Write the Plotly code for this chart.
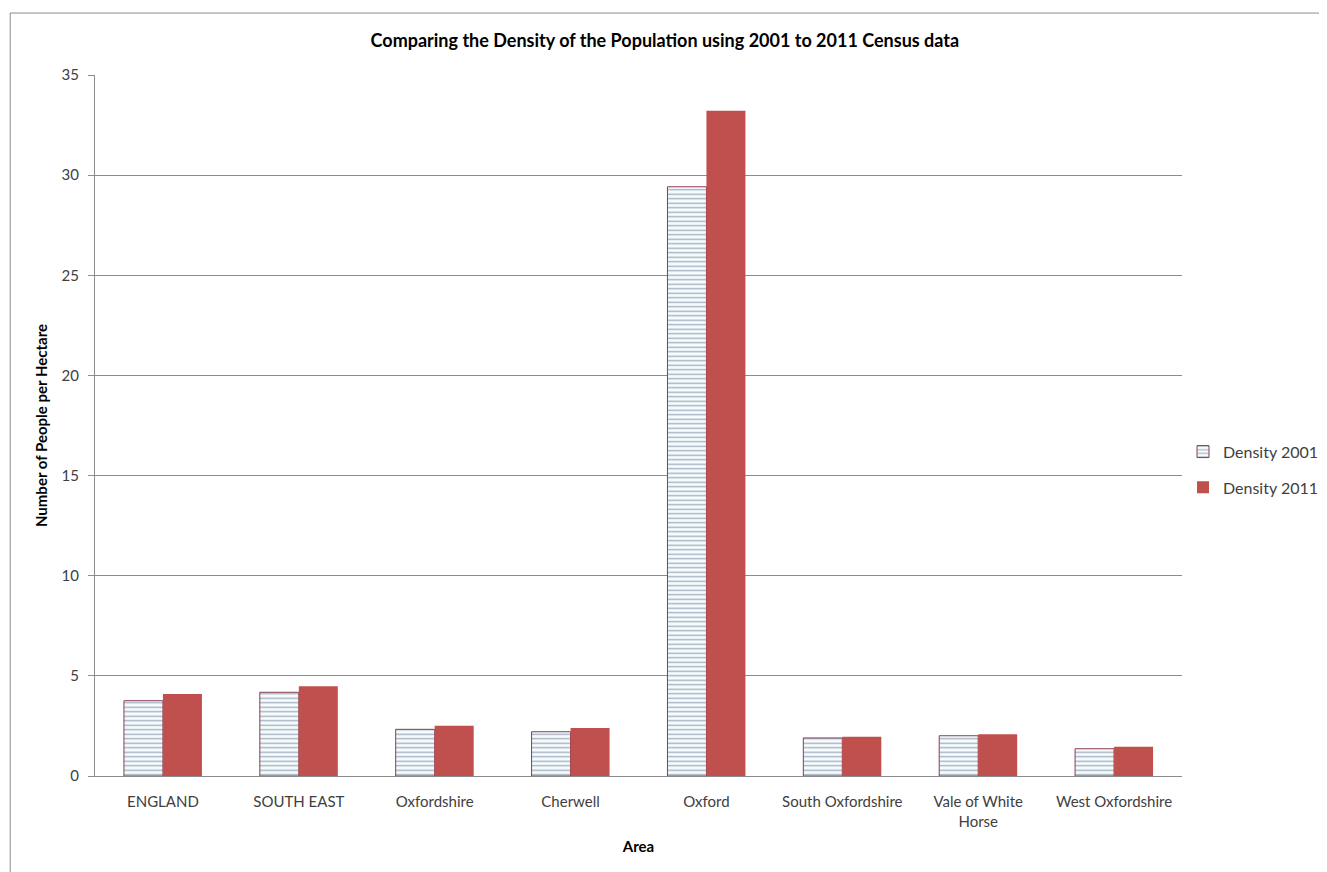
import plotly.graph_objects as go

areas = ["ENGLAND", "SOUTH EAST", "Oxfordshire", "Cherwell", "Oxford",
         "South Oxfordshire", "Vale of White<br>Horse", "West Oxfordshire"]
density_2001 = [3.76, 4.18, 2.33, 2.21, 29.42, 1.90, 2.01, 1.36]
density_2011 = [4.09, 4.48, 2.51, 2.40, 33.22, 1.96, 2.08, 1.46]

FONT = "Lato, Open Sans, sans-serif"
GRID = "#8c8c8c"

fig = go.Figure()

fig.add_trace(go.Bar(
    x=areas, y=density_2001, name="Density 2001", legendgroup="a",
    marker=dict(
        color="white",
        line=dict(color="#8a3b55", width=1),
        pattern=dict(shape="-", fgcolor="#4d6580", bgcolor="#f6fbfd",
                     size=4.5, solidity=0.3),
    ),
))
fig.add_trace(go.Bar(
    x=areas, y=density_2011, name="Density 2011", legendgroup="b",
    marker=dict(color="#c0504d", line=dict(color="#c0504d", width=0)),
))

# page body has an 8px margin, so the plot area is shifted back by 8px
fig.update_layout(
    width=1327, height=872,
    margin=dict(l=87, r=152, t=67, b=104),
    paper_bgcolor="white", plot_bgcolor="white",
    font=dict(family=FONT, size=15, color="#404040"),
    barmode="group", bargap=0.426, bargroupgap=0,
    title=dict(
        text="<b>Comparing the Density of the Population using 2001 to 2011 Census data</b>",
        x=0.495, xref="container", xanchor="center",
        y=0.963, yref="container", yanchor="middle",
        font=dict(size=18, color="black", family=FONT),
    ),
    legend=dict(x=1.0, y=0.437, xanchor="left", yanchor="middle",
                font=dict(size=16, color="#404040"), traceorder="grouped",
                tracegroupgap=12, itemwidth=30),
    showlegend=True,
)

fig.update_xaxes(
    showgrid=False, showline=True, linecolor=GRID, linewidth=1,
    ticks="", tickfont=dict(size=15, color="#404040"), ticklabelstandoff=12,
    title=dict(text="<b>Area</b>", font=dict(size=15, color="black"), standoff=12),
)
fig.update_yaxes(
    range=[0, 35], dtick=5, showgrid=True, gridcolor=GRID, gridwidth=1,
    showline=True, linecolor=GRID, linewidth=1,
    ticks="outside", ticklen=6, tickcolor=GRID, ticklabelstandoff=6,
    tickfont=dict(size=15, color="#404040"),
    zeroline=False,
    title=dict(text="<b>Number of People per Hectare</b>",
               font=dict(size=15, color="black"), standoff=10),
)

# outer chart border
fig.add_shape(type="rect", xref="paper", yref="paper",
              x0=-0.078, x1=1.15, y0=-0.16, y1=1.0884,
              line=dict(color="#8c8c8c", width=1), layer="below")

fig.write_html("out.html")
